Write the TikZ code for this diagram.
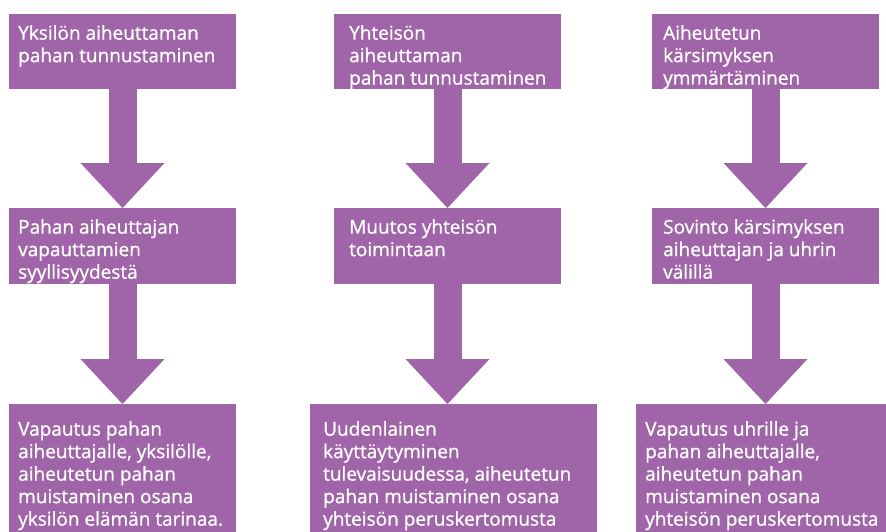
\documentclass[tikz,border=0pt]{standalone}
\usepackage{fontspec}
\setmainfont{Open Sans}[FakeBold=1.0]
\usepackage{tikz}
\usetikzlibrary{arrows.meta,positioning,shapes}
\definecolor{violetbox}{RGB}{160,100,168}
\newcommand{\boxfont}{\fontsize{19pt}{22.5pt}\selectfont}

\begin{document}
\begin{tikzpicture}
	\tikzstyle{box}
	  =[fill=violetbox, rectangle, inner sep=0, outer sep=0, 
	  anchor=north west, minimum width=227pt]
	\tikzstyle{boxtext}
	  =[text=white, align=left, inner sep=0, font=\boxfont]
	\tikzstyle{blockarrow}
	  =[draw=violetbox, line width=28pt, 
	  -{Triangle[width=84pt, length=45pt, line width=0pt]}]

	\useasboundingbox (0,0) rectangle (886pt,-532pt);

	% yksilo
	\node[box, minimum height=75pt] (ind1) at (9pt,-14pt) {};
	\node[boxtext] (ind1t) 
	  [below right=11pt and 9pt of ind1.north west] 
	  {Yksilön aiheuttaman\\pahan tunnustaminen};
	\node[box, minimum height=76pt] (ind2) 
	  [below right=119pt and 0pt of ind1.south west] {};
	\node[boxtext] (ind2t) 
	  [below right=11pt and 9pt of ind2.north west] 
	  {Pahan aiheuttajan\\vapauttamien\\syyllisyydestä};
	\node[box, minimum height=128pt] (ind3) 
	  [below right=120pt and 0pt of ind2.south west] {};
	\node[boxtext] (ind3t) 
	  [below right=17pt and 9pt of ind3.north west] 
	  {Vapautus pahan\\aiheuttajalle, yksilölle,\\aiheutetun pahan\\muistaminen osana\\yksilön elämän tarinaa.};

	% yhteiso
	\node[box, minimum height=75pt] (com1) at (334pt,-14pt) {};
	\node[boxtext] (com1t) 
	  [below right=11pt and 15pt of com1.north west] 
	  {Yhteisön\\aiheuttaman\\pahan tunnustaminen};
	\node[box, minimum height=76pt] (com2) 
	  [below right=119pt and 0pt of com1.south west] {};
	\node[boxtext] (com2t) 
	  [below right=11pt and 15pt of com2.north west] 
	  {Muutos yhteisön\\toimintaan};
	\node[box, minimum height=128pt, minimum width=287pt] (com3) 
	  [below right=120pt and -24pt of com2.south west] {};
	\node[boxtext] (com3t) 
	  [below right=17pt and 13pt of com3.north west] 
	  {Uudenlainen\\käyttäytyminen\\tulevaisuudessa, aiheutetun\\pahan muistaminen osana\\yhteisön peruskertomusta};

	% karsimys
	\node[box, minimum height=75pt] (rec1) at (652pt,-14pt) {};
	\node[boxtext] (rec1t) 
	  [below right=11pt and 11pt of rec1.north west] 
	  {Aiheutetun\\kärsimyksen\\ymmärtäminen};
	\node[box, minimum height=76pt] (rec2) 
	  [below right=119pt and 0pt of rec1.south west] {};
	\node[boxtext] (rec2t) 
	  [below right=11pt and 11pt of rec2.north west] 
	  {Sovinto kärsimyksen\\aiheuttajan ja uhrin\\välillä};
	\node[box, minimum height=128pt, minimum width=250pt] (rec3) 
	  [below right=120pt and -16pt of rec2.south west] {};
	\node[boxtext] (rec3t) 
	  [below right=17pt and 9pt of rec3.north west] 
	  {Vapautus uhrille ja\\pahan aiheuttajalle,\\aiheutetun pahan\\muistaminen osana\\yhteisön peruskertomusta};

	\draw[blockarrow] (ind1.south)--(ind2.north);
	\draw[blockarrow] (ind2.south)--(ind2.south |- ind3.north);
	\draw[blockarrow] (com1.south)--(com2.north);
	\draw[blockarrow] (com2.south)--(com2.south |- com3.north);
	\draw[blockarrow] (rec1.south)--(rec2.north);
	\draw[blockarrow] (rec2.south)--(rec2.south |- rec3.north);
\end{tikzpicture}
\end{document}
